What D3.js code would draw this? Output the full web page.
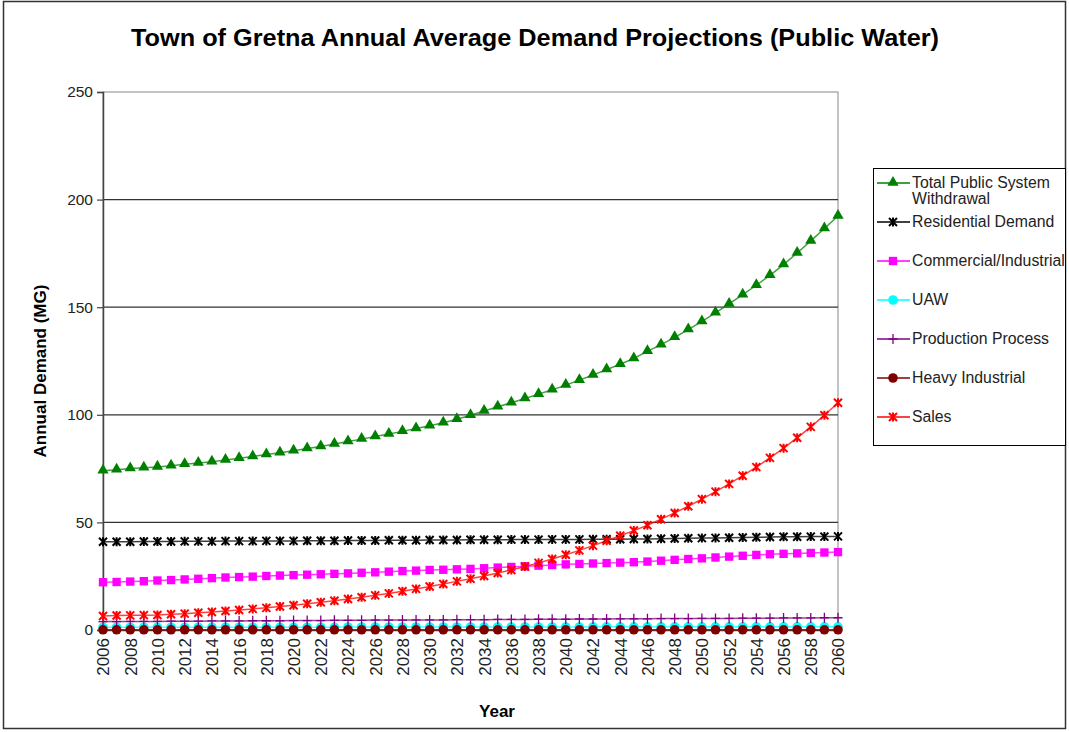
<!DOCTYPE html>
<html><head><meta charset="utf-8">
<script src="https://cdn.jsdelivr.net/npm/d3@7"></script>
<style>body{margin:0;background:#fff}svg{display:block}text{font-family:Arial,"Liberation Sans",sans-serif}</style>
</head><body><svg id="c" width="1069" height="732"></svg>
<script>
const years = d3.range(2006, 2061);
const tickYears = years.filter(y => y % 2 === 0);
const yTicks = [0, 50, 100, 150, 200, 250];
const seriesNames = ["Total Public System Withdrawal","Residential Demand","Commercial/Industrial","UAW","Production Process","Heavy Industrial","Sales"];
const totalWithdrawal = [74.0,74.5,75.0,75.4,75.8,76.3,77.0,77.6,78.2,79.0,79.8,80.6,81.5,82.4,83.3,84.3,85.3,86.4,87.6,88.7,89.9,91.1,92.3,93.6,94.9,96.3,97.9,99.8,101.8,103.7,105.6,107.6,109.6,111.6,113.8,116.1,118.5,121.0,123.5,126.2,129.5,132.6,136.0,139.6,143.4,147.4,151.5,155.8,160.2,164.8,169.8,175.2,180.8,186.6,192.4];
const residential = [41.0,41.0,41.0,41.1,41.1,41.1,41.2,41.2,41.2,41.3,41.3,41.3,41.4,41.4,41.4,41.5,41.5,41.5,41.6,41.6,41.6,41.7,41.7,41.7,41.8,41.8,41.8,41.9,41.9,41.9,42.0,42.0,42.0,42.1,42.1,42.1,42.2,42.2,42.2,42.3,42.3,42.4,42.5,42.6,42.7,42.8,42.9,43.0,43.1,43.2,43.3,43.3,43.4,43.4,43.5];
const commercial = [22.2,22.3,22.5,22.7,23.0,23.2,23.5,23.8,24.1,24.4,24.6,24.8,25.1,25.3,25.5,25.7,25.9,26.1,26.3,26.6,26.8,27.1,27.4,27.6,27.9,28.0,28.2,28.4,28.7,29.0,29.3,29.6,29.9,30.2,30.5,30.7,30.9,31.1,31.3,31.5,31.8,32.2,32.6,33.0,33.3,33.7,34.1,34.5,34.9,35.2,35.4,35.6,35.8,36.0,36.2];
const uaw = [1.3,1.3,1.3,1.3,1.3,1.3,1.3,1.3,1.3,1.3,1.3,1.3,1.3,1.3,1.3,1.3,1.3,1.3,1.4,1.4,1.4,1.4,1.4,1.4,1.4,1.4,1.4,1.4,1.4,1.4,1.4,1.4,1.4,1.4,1.4,1.4,1.5,1.5,1.5,1.5,1.5,1.5,1.5,1.5,1.5,1.5,1.5,1.5,1.5,1.5,1.5,1.5,1.5,1.5,1.5];
const production = [3.9,3.9,4.0,4.0,4.0,4.1,4.1,4.1,4.2,4.2,4.2,4.3,4.3,4.3,4.4,4.4,4.4,4.5,4.5,4.5,4.6,4.6,4.6,4.7,4.7,4.7,4.8,4.8,4.8,4.9,4.9,4.9,5.0,5.0,5.0,5.1,5.1,5.1,5.2,5.2,5.2,5.3,5.3,5.3,5.4,5.4,5.4,5.5,5.5,5.5,5.6,5.6,5.6,5.7,5.7];
const heavy = [0.1,0.1,0.1,0.1,0.1,0.1,0.1,0.1,0.1,0.1,0.1,0.1,0.1,0.1,0.1,0.1,0.1,0.1,0.1,0.1,0.1,0.1,0.1,0.1,0.1,0.1,0.1,0.1,0.1,0.1,0.1,0.1,0.1,0.1,0.1,0.1,0.1,0.1,0.1,0.1,0.1,0.1,0.1,0.1,0.1,0.1,0.1,0.1,0.1,0.1,0.1,0.1,0.1,0.1,0.1];
const sales = [6.5,6.7,6.8,6.9,7.0,7.3,7.6,8.0,8.4,8.8,9.3,9.8,10.3,10.9,11.5,12.2,12.9,13.6,14.4,15.2,16.1,17.0,18.0,19.1,20.2,21.4,22.6,23.8,25.1,26.5,27.9,29.5,31.2,33.0,35.0,37.0,39.2,41.5,43.8,46.2,48.7,51.5,54.4,57.5,60.8,64.3,67.9,71.7,75.7,80.0,84.5,89.3,94.4,99.8,105.6];

const series = [
  {name: seriesNames[0], values: totalWithdrawal, color: "#008000", marker: "triangle"},
  {name: seriesNames[1], values: residential, color: "#000000", marker: "star"},
  {name: seriesNames[2], values: commercial, color: "#FF00FF", marker: "square"},
  {name: seriesNames[3], values: uaw, color: "#00FFFF", marker: "circle"},
  {name: seriesNames[4], values: production, color: "#800080", marker: "plus"},
  {name: seriesNames[5], values: heavy, color: "#800000", marker: "circle"},
  {name: seriesNames[6], values: sales, color: "#FF0000", marker: "star"}
];

const svg = d3.select("#c");
const L = 103, R = 838, T = 92, B = 630;
const x = d3.scalePoint().domain(years).range([L, R]).padding(0);
const y = d3.scaleLinear().domain([0, 250]).range([B, T]);

// outer border
svg.append("rect").attr("x", 3.5).attr("y", 1.5).attr("width", 1062).attr("height", 727)
  .attr("fill", "#fff").attr("stroke", "#333").attr("stroke-width", 1.5);

// title
svg.append("text").attr("x", 535).attr("y", 46).attr("text-anchor", "middle")
  .attr("font-size", 23).attr("font-weight", "bold")
  .attr("textLength", 808).attr("lengthAdjust", "spacingAndGlyphs")
  .text("Town of Gretna Annual Average Demand Projections (Public Water)");

// plot frame
svg.append("rect").attr("x", L).attr("y", T).attr("width", R - L).attr("height", B - T)
  .attr("fill", "none").attr("stroke", "#888").attr("stroke-width", 1);

// gridlines
svg.append("g").selectAll("line").data(yTicks.filter(v => v > 0 && v < 250)).join("line")
  .attr("x1", L).attr("x2", R).attr("y1", d => y(d)).attr("y2", d => y(d))
  .attr("stroke", "#333").attr("stroke-width", 1.2);

// y axis
const yAxis = svg.append("g").attr("transform", `translate(${L},0)`)
  .call(d3.axisLeft(y).tickValues(yTicks).tickSize(6).tickPadding(4));
yAxis.select(".domain").attr("stroke", "#444").attr("stroke-width", 1.5);
yAxis.selectAll(".tick line").attr("stroke", "#444").attr("stroke-width", 1.2);
yAxis.selectAll(".tick text").attr("font-size", 15.5).attr("fill", "#222").attr("font-family", "Arial, 'Liberation Sans', sans-serif");

// x axis
const xAxis = svg.append("g").attr("transform", `translate(0,${B})`)
  .call(d3.axisBottom(x).tickValues(tickYears).tickSize(0).tickPadding(0));
xAxis.select(".domain").attr("stroke", "#444").attr("stroke-width", 1.5);
xAxis.selectAll(".tick text").attr("font-size", 17).attr("fill", "#222")
  .attr("font-family", "Arial, 'Liberation Sans', sans-serif")
  .attr("text-anchor", "end").attr("transform", "translate(0,8) rotate(-90)")
  .attr("dx", 0).attr("dy", "0.35em").attr("x", 0).attr("y", 0);

// axis titles
svg.append("text").attr("transform", "translate(46,371) rotate(-90)").attr("text-anchor", "middle")
  .attr("font-size", 17).attr("font-weight", "bold").text("Annual Demand (MG)");
svg.append("text").attr("x", 497).attr("y", 717).attr("text-anchor", "middle")
  .attr("font-size", 17).attr("font-weight", "bold").text("Year");

function drawMarker(g, type, color) {
  if (type === "triangle") {
    g.append("path").attr("d", d3.symbol(d3.symbolTriangle, 55)()).attr("fill", color).attr("transform", "translate(0,-0.5)");
  } else if (type === "square") {
    g.append("path").attr("d", d3.symbol(d3.symbolSquare, 70)()).attr("fill", color);
  } else if (type === "circle") {
    g.append("circle").attr("r", 4.8).attr("fill", color);
  } else if (type === "star") {
    g.append("path").attr("d", "M-4,-4L4,4M-4,4L4,-4M0,-4.5L0,4.5").attr("stroke", color).attr("stroke-width", 2).attr("fill", "none");
  } else if (type === "plus") {
    g.append("path").attr("d", "M-4.5,0L4.5,0M0,-5L0,5").attr("stroke", color).attr("stroke-width", 1.3).attr("fill", "none");
  }
}

const line = d3.line().x((d, i) => x(years[i])).y(d => y(d));
series.forEach(s => {
  const g = svg.append("g");
  g.append("path").attr("d", line(s.values)).attr("fill", "none").attr("stroke", s.color)
    .attr("stroke-width", 1.5).attr("stroke-opacity", 0.75);
  s.values.forEach((v, i) => {
    const m = g.append("g").attr("transform", `translate(${x(years[i])},${y(v)})`);
    drawMarker(m, s.marker, s.color);
  });
});

// legend
const lg = svg.append("g");
lg.append("rect").attr("x", 873.5).attr("y", 168.5).attr("width", 192).attr("height", 277)
  .attr("fill", "#fff").attr("stroke", "#000").attr("stroke-width", 1);
const rowsY = [183, 222, 261, 300, 339, 378, 417];
series.forEach((s, i) => {
  const ry = rowsY[i];
  const g = lg.append("g");
  g.append("line").attr("x1", 877).attr("x2", 910).attr("y1", ry).attr("y2", ry).attr("stroke", s.color).attr("stroke-width", 1.5);
  const m = g.append("g").attr("transform", `translate(893,${ry})`);
  drawMarker(m, s.marker, s.color);
  if (i === 0) {
    g.append("text").attr("x", 912).attr("y", ry + 5).attr("font-size", 15.8).attr("fill", "#222").text("Total Public System");
    g.append("text").attr("x", 912).attr("y", ry + 21).attr("font-size", 15.8).attr("fill", "#222").text("Withdrawal");
  } else {
    g.append("text").attr("x", 912).attr("y", ry + 5).attr("font-size", 15.8).attr("fill", "#222").text(s.name);
  }
});
</script></body></html>
